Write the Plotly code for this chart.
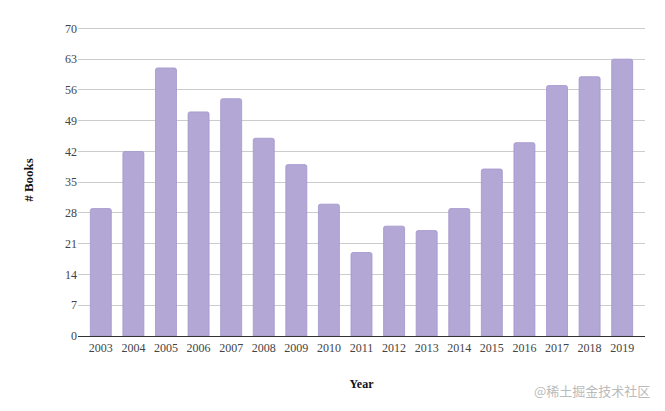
import plotly.graph_objects as go

years = [str(y) for y in range(2003, 2020)]
books = [29, 42, 61, 51, 54, 45, 39, 30, 19, 25, 24, 29, 38, 44, 57, 59, 63]
y_ticks = [0, 7, 14, 21, 28, 35, 42, 49, 56, 63, 70]

fig = go.Figure(go.Bar(
    x=years, y=books,
    marker=dict(color="#b3a7d6", line=dict(color="#a396cc", width=0.8), cornerradius=2),
))

# page body has an 8px default margin, so the figure is sized to compensate
fig.update_layout(
    width=657, height=403,
    margin=dict(l=70, r=20, t=16, b=75),
    plot_bgcolor="white", paper_bgcolor="white",
    bargap=0.356,
    showlegend=False,
    font=dict(family="Liberation Serif, serif", size=12, color="#444"),
)
fig.update_xaxes(
    type="category", range=[-0.7, 16.7],
    showline=True, linecolor="#333", linewidth=1.2,
    ticks="", tickfont=dict(size=12, color="#444"),
    title=dict(text="<b>Year</b>", font=dict(size=12, color="#111"), standoff=26),
)
fig.update_yaxes(
    range=[0, 71], tickvals=y_ticks,
    showgrid=True, gridcolor="#cccccc", gridwidth=1,
    zeroline=False, showline=False, ticks="",
    tickfont=dict(size=12, color="#444"),
    title=dict(text="<b># Books</b>", font=dict(size=13, color="#111"), standoff=28),
)
fig.add_annotation(
    text="@稀土掘金技术社区", xref="paper", yref="paper",
    x=1.012, y=-0.175, xanchor="right", yanchor="middle", showarrow=False,
    font=dict(family="Noto Sans CJK SC", size=13, color="#bbbbbb"),
)

fig.write_html("out.html")
